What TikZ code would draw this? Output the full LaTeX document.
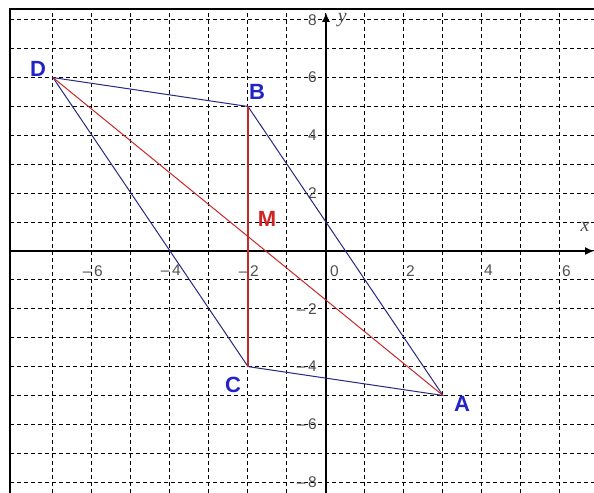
\documentclass[tikz,border=0pt]{standalone}
\usepackage{fontspec}
\setmainfont{Liberation Serif}
\setsansfont{Liberation Sans}
\usetikzlibrary{arrows.meta}
\definecolor{navy}{RGB}{40,40,130}
\definecolor{ptblue}{RGB}{35,35,200}
\definecolor{ptred}{RGB}{210,35,35}
\definecolor{lred}{RGB}{200,40,40}
\definecolor{tickgray}{RGB}{80,80,80}
\tikzset{
  gridline/.style={black, line width=1pt, dash pattern=on 4pt off 3pt},
  axisline/.style={black, line width=1.3pt},
  frameline/.style={black, line width=2pt},
  side/.style={navy, line width=1pt},
  redline/.style={lred, line width=1pt},
  redthick/.style={lred, line width=1.5pt},
  ptlabel/.style={font=\sffamily\bfseries\fontsize{22}{22}\selectfont, inner sep=0pt},
  xtick/.style={font=\sffamily\fontsize{15.5}{15.5}\selectfont, text=tickgray, inner sep=0pt, anchor=north west},
  ytick/.style={font=\sffamily\fontsize{15.5}{15.5}\selectfont, text=tickgray, inner sep=0pt, anchor=east},
  axlabel/.style={font=\itshape\fontsize{20}{20}\selectfont, text=tickgray, inner sep=0pt}
}
\begin{document}
\begin{tikzpicture}[x=39pt, y=28.9pt]
\useasboundingbox (-8.359,-8.374) rectangle (6.872,8.685);
\fill[white] (-8.359,-8.374) rectangle (6.872,8.685);
% grid
\foreach \i in {-7,...,6} \draw[gridline] (\i,-8.374) -- (\i,8.37);
\foreach \j in {-8,...,8} \draw[gridline] (-8.1,\j) -- (6.872,\j);
% frame
\draw[frameline] (-8.1,-8.374) -- (-8.1,8.37) -- (6.872,8.37);
% axes
\coordinate (xs) at (-8.1,0);
\coordinate (xe) at (6.872,0);
\coordinate (ys) at (0,-8.374);
\coordinate (ye) at (0,8.24);
\draw[axisline, -{Latex[length=9pt,width=8pt]}] (xs) -- (xe);
\draw[axisline, -{Latex[length=9pt,width=8pt]}] (ys) -- (ye);
\node[axlabel] (ylab) at (0.42,8.0) {y};
\node[axlabel] (xlab) at (6.64,0.83) {x};
% tick labels
\foreach \v in {2,4,6} \node[xtick] (xt\v) at ([shift={(2pt,-14pt)}]\v,0) {\v};
\foreach \v in {2,4,6} \node[xtick] (xtm\v) at ([shift={(2pt,-14pt)}]-\v,0) {\llap{\textendash\,}\v};
\node[xtick] (xt0) at ([shift={(4pt,-14pt)}]0,0) {0};
\foreach \v in {2,4,6,8} \node[ytick] (yt\v) at ([xshift=-9pt]0,\v) {\v};
\foreach \v in {2,4,6,8} \node[ytick] (ytm\v) at ([xshift=-9pt]0,-\v) {\textendash\,\v};
% points
\coordinate (A) at (3,-5);
\coordinate (B) at (-2,5);
\coordinate (C) at (-2,-4);
\coordinate (D) at (-7,6);
\coordinate (M) at (-2,0.5);
\draw[side] (D) -- (B) -- (A) -- (C) -- cycle;
\draw[redline] (D) -- (A);
\draw[redthick] (B) -- (C);
\node[ptlabel, text=ptblue] (labD) at ([shift={(-15pt,9pt)}]D) {D};
\node[ptlabel, text=ptblue] (labB) at ([shift={(9pt,15pt)}]B) {B};
\node[ptlabel, text=ptred] (labM) at ([shift={(19pt,18pt)}]M) {M};
\node[ptlabel, text=ptblue] (labC) at ([shift={(-15pt,-18pt)}]C) {C};
\node[ptlabel, text=ptblue] (labA) at ([shift={(19pt,-8pt)}]A) {A};
\end{tikzpicture}
\end{document}
